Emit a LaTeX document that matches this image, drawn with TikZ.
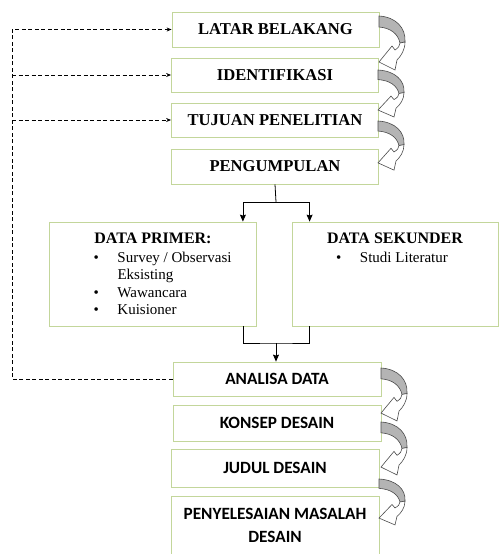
\documentclass[tikz,border=0pt]{standalone}
\usepackage{fontspec}
\setmainfont{Liberation Serif}
\newfontfamily\calfont{Carlito}
\usetikzlibrary{arrows.meta}

\definecolor{boxline}{HTML}{C3D69B}
\definecolor{curlgray}{HTML}{B4B4B4}

% bullet line inside the data boxes
\newcommand{\dotitem}[1]{\par\hangindent=68pt\hangafter=1\noindent\hspace*{44pt}\makebox[24pt][l]{\textbullet}#1}

\tikzset{
  box/.style={draw=boxline, line width=0.8pt, fill=white, inner sep=0pt},
  topbox/.style={box, minimum width=207pt, font=\fontsize{16.6}{18}\selectfont\bfseries},
  lowbox/.style={box, minimum width=208pt, align=center, font=\calfont\fontsize{17.2}{23}\selectfont\bfseries},
  databox/.style={box, minimum width=207pt, minimum height=104pt},
  conn/.style={line width=0.8pt},
  dashline/.style={dash pattern=on 4pt off 2.5pt, line width=0.7pt},
  curl/.pic={
    \filldraw[draw=black!70, fill=curlgray, line width=0.6pt]
      (0,0) .. controls (17,1) and (27,12) .. (26,26) -- (21,27)
      .. controls (19,18) and (12,12) .. (0,11) -- cycle;
    \filldraw[draw=black!70, fill=white, line width=0.6pt]
      (26,26) .. controls (26,34) and (22,40) .. (18,44) -- (16,54) -- (0,46)
      -- (13,30) -- (16,34) .. controls (19,32) and (21,30) .. (21,27) -- cycle;
  }
}

\begin{document}
\begin{tikzpicture}[x=1pt, y=-1pt]
\useasboundingbox (0,0) rectangle (499,554);

% first steps
\node[topbox, minimum height=35pt] (latar) at (275.5,29.5) {LATAR BELAKANG};
\node[topbox, minimum height=34pt] (ident) at (275,75) {IDENTIFIKASI};
\node[topbox, minimum height=34pt] (tujuan) at (275,120) {TUJUAN PENELITIAN};
\node[topbox, minimum height=35pt] (kumpul) at (275,166.5) {PENGUMPULAN};

% data
\node[databox] (primer) at (153,274) {%
  \begin{minipage}[t][96pt][t]{207pt}
  \vspace*{7pt}\fontsize{15}{17.5}\selectfont
  \centerline{\fontsize{16}{17.5}\selectfont\bfseries DATA PRIMER:}\vspace{1pt}
  \dotitem{Survey / Observasi\\Eksisting}
  \dotitem{Wawancara}
  \dotitem{Kuisioner}
  \end{minipage}};
\node[databox, minimum width=206pt] (sekunder) at (395,274) {%
  \begin{minipage}[t][96pt][t]{206pt}
  \vspace*{7pt}\fontsize{15}{17.5}\selectfont
  \centerline{\fontsize{16}{17.5}\selectfont\bfseries DATA SEKUNDER}\vspace{1pt}
  \par\noindent\hspace*{44pt}\makebox[24pt][l]{\textbullet}Studi Literatur
  \end{minipage}};

% last steps
\node[lowbox, minimum height=34pt] (analisa) at (277,379) {ANALISA DATA};
\node[lowbox, minimum height=36pt] (konsep) at (277,423) {KONSEP DESAIN};
\node[lowbox, minimum height=38pt] (judul) at (275,468) {JUDUL DESAIN};
\node[lowbox, minimum height=58pt] (selesai) at (275,525) {PENYELESAIAN MASALAH\\DESAIN};

% feedback lines
\coordinate (fb) at (12,0);
\draw[dashline, -{Stealth[length=5pt,width=4pt]}] (analisa.west) -| (fb |- latar.west) -- (latar.west);
\foreach \n in {ident,tujuan}
  \draw[dashline, -{Stealth[length=5pt,width=4pt]}] (fb |- \n.west) -- (\n.west);

% split and join
\coordinate (split) at (276,202);
\coordinate (join) at (276,343);
\draw[conn] (kumpul.south) -- (split);
\draw[conn, -{Stealth[length=7pt,width=6pt,inset=1pt]}] (split) -| ([xshift=-14pt]primer.north east);
\draw[conn, -{Stealth[length=7pt,width=6pt,inset=1pt]}] (split) -| ([xshift=18pt]sekunder.north west);
\draw[conn] ([xshift=-14pt]primer.south east) |- (join) -| ([xshift=18pt]sekunder.south west);
\draw[conn, -{Stealth[length=7pt,width=6pt,inset=1pt]}] (join) -- (join |- analisa.north);

% curved arrows on the right
\foreach \px/\py/\h in {379/16/1, 378/70/0.87, 378/121/0.91,
                        381/368/0.98, 381/422/0.98, 379/479/0.85}
  \pic[yscale=\h] at (\px,\py) {curl};
\end{tikzpicture}
\end{document}
